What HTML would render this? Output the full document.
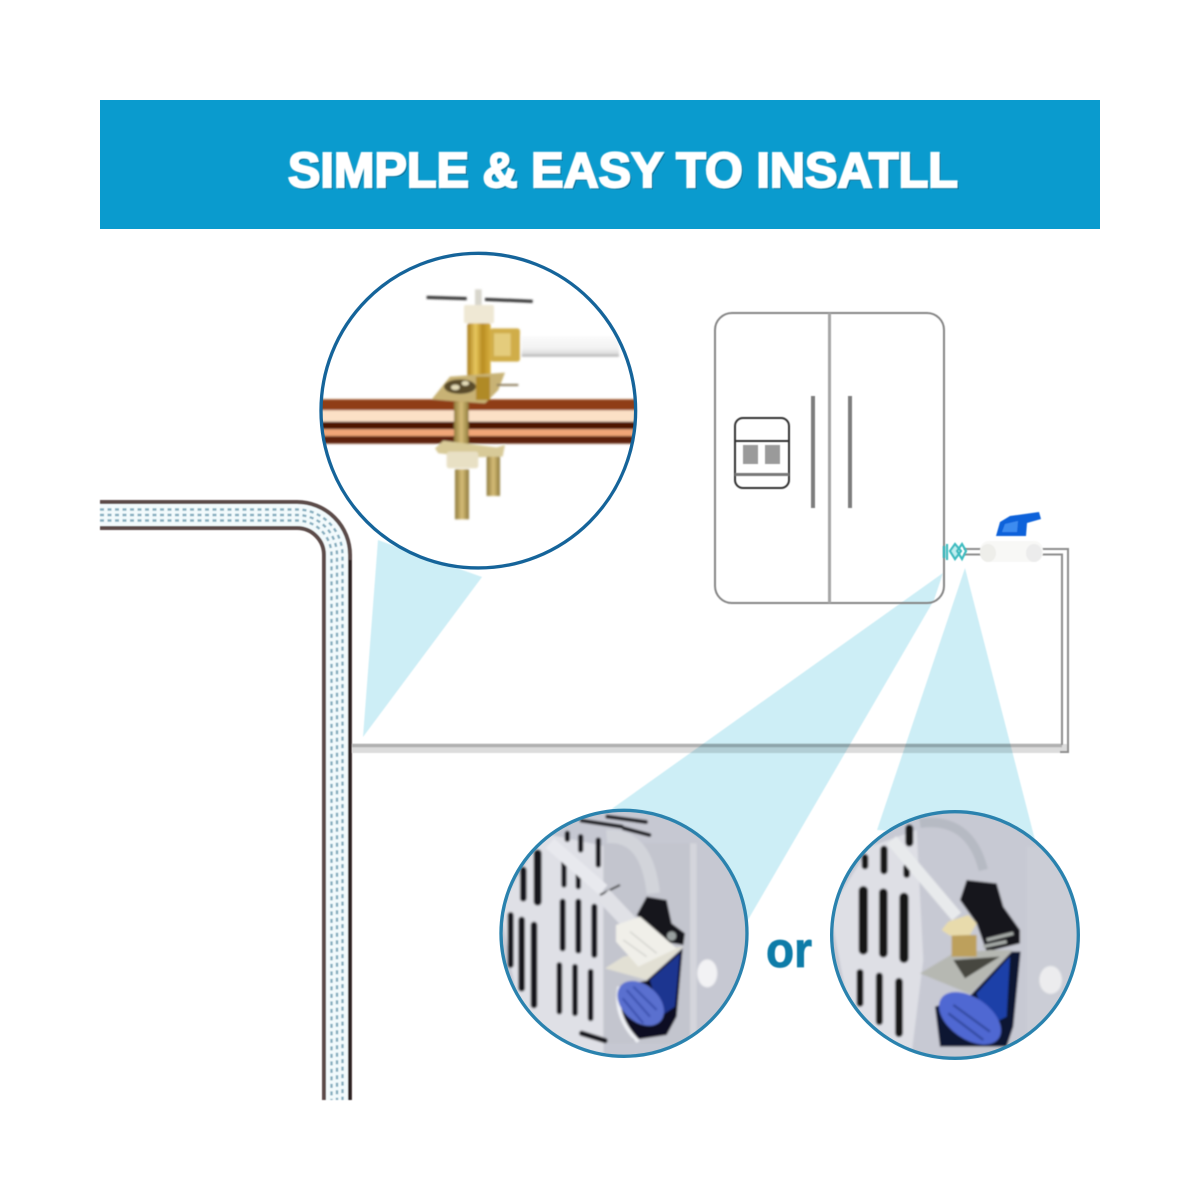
<!DOCTYPE html>
<html><head><meta charset="utf-8"><style>html,body{margin:0;padding:0;background:#fff}svg{display:block}</style></head><body>
<svg xmlns="http://www.w3.org/2000/svg" width="1200" height="1200" viewBox="0 0 1200 1200">
<defs>
<filter id="b" x="-5%" y="-5%" width="110%" height="110%"><feGaussianBlur stdDeviation="3"/></filter>
<filter id="s" x="-5%" y="-5%" width="110%" height="110%"><feGaussianBlur stdDeviation="0.6"/></filter>
<filter id="t" x="-5%" y="-20%" width="110%" height="140%"><feGaussianBlur stdDeviation="0.5"/></filter>
<clipPath id="c1"><circle cx="505" cy="512" r="470"/></clipPath>
<clipPath id="c2"><circle cx="402" cy="400" r="369"/></clipPath>
<clipPath id="c3"><circle cx="405" cy="405" r="370"/></clipPath>
<linearGradient id="tube" x1="0" y1="0" x2="0" y2="1"><stop offset="0" stop-color="#fbfbfb"/><stop offset=".6" stop-color="#f2f2f2"/><stop offset=".85" stop-color="#dcdcdc"/><stop offset="1" stop-color="#a8a8a8"/></linearGradient>
<linearGradient id="brass" x1="0" y1="0" x2="1" y2="0"><stop offset="0" stop-color="#a87c1c"/><stop offset=".35" stop-color="#e8c860"/><stop offset=".65" stop-color="#b88c20"/><stop offset="1" stop-color="#d8b040"/></linearGradient>
<linearGradient id="bolt" x1="0" y1="0" x2="1" y2="0"><stop offset="0" stop-color="#8e7a3c"/><stop offset=".5" stop-color="#d6bd78"/><stop offset="1" stop-color="#8e7a3c"/></linearGradient>
</defs>

<rect x="100" y="100" width="1000" height="129" fill="#0a9bce"/>
<text x="288" y="187" font-family="Liberation Sans, sans-serif" font-weight="700" font-size="49" textLength="670" lengthAdjust="spacingAndGlyphs" fill="#0b6f96" stroke="#0b6f96" stroke-width="1.500" opacity=".75" transform="translate(1.5 1.5)">SIMPLE &amp; EASY TO INSATLL</text>
<text x="288" y="187" font-family="Liberation Sans, sans-serif" font-weight="700" font-size="49" textLength="670" lengthAdjust="spacingAndGlyphs" fill="#fff" stroke="#fff" stroke-width="2.200" filter="url(#t)">SIMPLE &amp; EASY TO INSATLL</text>

<!-- wall water pipe -->
<g filter="url(#s)" fill="none">
<path d="M100 515H297A40 40 0 0 1 337 555V1100" stroke="#5c4c48" stroke-width="30"/>
<path d="M100 515H297A40 40 0 0 1 337 555V1100" stroke="#f2fafc" stroke-width="22"/>
<path d="M320 555V555M350 560V1100" stroke="#2a2020" stroke-width="3"/>
<g stroke="#86aebf" stroke-width="2.4" stroke-dasharray="4 3.5">
<path d="M100 509.500H297A45.500 45.500 0 0 1 342.500 555V1100"/>
<path d="M100 515H297A40 40 0 0 1 337 555V1100"/>
<path d="M100 520.500H297A34.500 34.500 0 0 1 331.500 555V1100"/>
</g>
</g>

<!-- water line -->
<g filter="url(#s)" fill="none">
<rect x="352" y="744" width="716" height="9" fill="#dcdcdc"/>
<path d="M352 745.500H1062" stroke="#b0b0b0" stroke-width="3.500"/>
<path d="M1040 549H1068V752H1060" stroke="#8d8d8d" stroke-width="2"/>
<path d="M1040 554.500H1062V745" stroke="#8d8d8d" stroke-width="2"/>
<path d="M964 549H982M964 554.500H982" stroke="#8d8d8d" stroke-width="2"/>
</g>

<!-- beams -->
<g fill="#cdeef6" style="mix-blend-mode:multiply" filter="url(#s)">
<polygon points="363,737 378,540 482,577"/>
<polygon points="943,573 613,808 560,900 745,925 934,600"/>
<polygon points="965,568 877,830 1035,840"/>
</g>

<!-- fridge -->
<g fill="none" filter="url(#s)">
<rect x="715" y="313" width="229" height="290" rx="17" stroke="#858585" stroke-width="2"/>
<path d="M829.500 313V603" stroke="#a6a6a6" stroke-width="3"/>
<path d="M813 396V508M850 396V508" stroke="#7d7d7d" stroke-width="4"/>
<rect x="735" y="418" width="54" height="70" rx="8" stroke="#333" stroke-width="2"/>
<path d="M735 441H789" stroke="#333" stroke-width="2"/>
<path d="M735 474.500H789" stroke="#777" stroke-width="3"/>
<rect x="743" y="445" width="15" height="19" fill="#9a9a9a"/>
<rect x="765" y="445" width="15" height="19" fill="#9a9a9a"/>
</g>

<!-- valve -->
<g filter="url(#s)">
<g fill="none" stroke="#3cbcc0" stroke-width="2.200">
<path d="M944 546V558M947 544V560"/>
<path d="M950 551L955 544L961 551L955 559Z" fill="#bfeef0"/>
<path d="M957 551L962 544L966 551L962 559Z"/>
</g>
<rect x="980" y="541" width="63" height="21" rx="9" fill="#f8f8f6"/>
<ellipse cx="988" cy="553" rx="8" ry="9" fill="#eeeeea"/>
<ellipse cx="1034" cy="553" rx="8" ry="9" fill="#ececec"/>
<path d="M996 536L1000 522L1010 516L1039 512L1041 519L1027 523L1026 536Z" fill="#0f62da"/>
<path d="M1002 532L1005 524L1018 521L1017 532Z" fill="#3d8cf0"/>
</g>

<!-- circle 1 -->
<g transform="translate(310 240) scale(.3333)">
<circle cx="505" cy="512" r="472" fill="#fff"/>
<g clip-path="url(#c1)"><g filter="url(#b)">
<rect x="0" y="478" width="1020" height="33" fill="#8f3e12"/>
<rect x="0" y="511" width="1020" height="34" fill="#fbe0c6"/>
<rect x="0" y="545" width="1020" height="23" fill="#4d1505"/>
<rect x="0" y="568" width="1020" height="20" fill="#f1a678"/>
<rect x="0" y="588" width="1020" height="23" fill="#5e2208"/>
<rect x="635" y="288" width="292" height="62" fill="url(#tube)"/>
<path d="M350 172L470 176M525 178L668 184" stroke="#2e2e2e" stroke-width="9" fill="none"/>
<rect x="495" y="148" width="20" height="50" fill="#d8d6cc"/>
<rect x="462" y="195" width="90" height="55" rx="6" fill="#efe8d4"/>
<rect x="540" y="265" width="90" height="100" rx="8" fill="#d0ad48"/>
<rect x="552" y="280" width="50" height="68" fill="#e4cc7c"/>
<rect x="472" y="250" width="70" height="175" rx="6" fill="url(#brass)"/>
<polygon points="365,478 420,410 585,398 565,450 525,490 440,484" fill="#c8b274"/>
<ellipse cx="450" cy="440" rx="48" ry="22" fill="#5a4c2c"/>
<ellipse cx="436" cy="442" rx="13" ry="8" fill="#e5dcb8"/>
<ellipse cx="466" cy="430" rx="11" ry="7" fill="#e5dcb8"/>
<rect x="498" y="410" width="42" height="70" fill="#b08a28"/>
<path d="M560 435H625" stroke="#8a7a5a" stroke-width="6"/>
<rect x="432" y="485" width="44" height="138" fill="url(#bolt)"/>
<polygon points="375,625 400,602 560,622 585,615 578,650 500,652 385,640" fill="#d8ca98"/>
<rect x="410" y="635" width="95" height="50" rx="8" fill="#e8e0c4"/>
<rect x="435" y="688" width="42" height="150" fill="url(#bolt)"/>
<rect x="530" y="650" width="40" height="118" fill="url(#bolt)"/>
</g></g>
<circle cx="505" cy="512" r="472" fill="none" stroke="#15649a" stroke-width="10"/>
</g>

<!-- circle 2 -->
<g transform="translate(490 800) scale(.3333)">
<g clip-path="url(#c2)"><g filter="url(#b)">
<rect x="0" y="0" width="810" height="810" fill="#c6c8d2"/>
<polygon points="30,320 160,100 350,140 340,780 100,700" fill="#dfe0e6"/>
<rect x="340" y="130" width="260" height="600" fill="#c3c5ce"/>
<rect x="600" y="130" width="20" height="600" fill="#d4d5dc"/>
<path d="M350 110Q470 100 490 280" fill="none" stroke="#d2d4da" stroke-width="40"/>
<g stroke="#14141a" stroke-linecap="round" fill="none">
<path d="M143 160V305" stroke-width="24"/><path d="M100 210V295" stroke-width="20"/>
<path d="M62 345V495" stroke-width="18"/><path d="M95 360V565" stroke-width="20"/><path d="M132 375V615" stroke-width="20"/>
<path d="M218 305V445M265 305V452M313 320V465" stroke-width="18"/>
<path d="M208 495V635M255 500V640M302 515V655" stroke-width="17"/>
<path d="M222 185V255M265 210V260M325 120V195M272 110V150M232 100V118" stroke-width="16"/>
<path d="M275 62L395 80M352 50L468 66M402 85L478 105" stroke-width="12"/>
<path d="M275 700L345 722" stroke-width="16"/>
</g>
<path d="M180 130L340 270" stroke="#e8e9ee" stroke-width="38" fill="none"/>
<path d="M330 285L390 255" stroke="#333" stroke-width="6"/>
<path d="M340 285L420 370" stroke="#e0e1e6" stroke-width="48" fill="none"/>
<path d="M440 345L470 290L530 300L545 370L585 400L580 435L520 425Z" fill="#17171b"/>
<circle cx="545" cy="408" r="14" fill="#9aa0a0"/>
<polygon points="345,505 470,540 580,440 500,450 400,470" fill="#e2e0d4"/>
<polygon points="470,542 578,445 560,650 530,705 430,720 395,640 390,560" fill="#101020"/>
<polygon points="480,540 570,460 555,620 510,650" fill="#1c3490"/>
<path d="M388 560Q370 650 445 725" fill="none" stroke="#eef0f4" stroke-width="12"/>
<ellipse cx="452" cy="610" rx="80" ry="55" transform="rotate(42 452 610)" fill="#5a70cf"/>
<path d="M410 570L480 650M398 595L460 670M430 560L500 630" stroke="#3b50ac" stroke-width="6"/>
<polygon points="378,375 450,350 560,445 445,500 378,425" fill="#f0efe9"/>
<path d="M420 395L500 460M400 420L470 470" stroke="#d0d0cc" stroke-width="4"/>
<ellipse cx="652" cy="520" rx="30" ry="42" fill="#f2f2f4"/>
</g></g>
<circle cx="402" cy="400" r="369" fill="none" stroke="#2a82ae" stroke-width="10"/>
</g>

<!-- circle 3 -->
<g transform="translate(820 800) scale(.3333)">
<g clip-path="url(#c3)"><g filter="url(#b)">
<rect x="0" y="0" width="810" height="810" fill="#c7c9d3"/>
<polygon points="30,330 150,140 290,90 310,480 270,800 100,700" fill="#dedfe5"/>
<rect x="620" y="140" width="200" height="600" fill="#cbcdd6"/>
<path d="M300 70Q450 50 490 210" fill="none" stroke="#b6bac3" stroke-width="28"/>
<g stroke="#121216" stroke-linecap="round" fill="none">
<path d="M130 272V450" stroke-width="28"/><path d="M190 278V460" stroke-width="26"/><path d="M252 292V475" stroke-width="28"/>
<path d="M120 518V610" stroke-width="21"/><path d="M178 528V665" stroke-width="21"/><path d="M237 545V700" stroke-width="23"/>
<path d="M268 85V128" stroke-width="24"/><path d="M192 148V212" stroke-width="22"/><path d="M135 172V198" stroke-width="20"/><path d="M260 202V224" stroke-width="20"/>
</g>
<path d="M215 120L410 350" stroke="#e8eaec" stroke-width="36" fill="none"/>
<path d="M420 300L440 240L530 250L550 320L600 390L600 430L500 455L470 370Z" fill="#17171a"/>
<path d="M500 420L580 400M490 440L560 425" stroke="#a9adaa" stroke-width="10"/>
<polygon points="300,520 400,460 510,450 578,450 450,582" fill="#b6b8b2"/>
<polygon points="400,480 540,470 435,535" fill="#46463f"/>
<polygon points="452,585 575,455 602,455 580,680 560,740 360,740 345,620" fill="#0f1530"/>
<polygon points="470,580 570,470 560,650 500,680" fill="#1f40a8"/>
<ellipse cx="450" cy="655" rx="105" ry="62" transform="rotate(35 450 655)" fill="#4f68d2"/>
<path d="M385 640L490 720M400 615L510 695" stroke="#33489f" stroke-width="7"/>
<rect x="395" y="405" width="75" height="65" fill="#bda05c"/>
<polygon points="365,390 385,365 445,345 470,370 450,405 390,407" fill="#e8dbac"/>
<ellipse cx="692" cy="540" rx="34" ry="42" fill="#ececee"/>
</g></g>
<circle cx="405" cy="405" r="370" fill="none" stroke="#2a82ae" stroke-width="10"/>
</g>

<text x="766" y="967" font-family="Liberation Sans, sans-serif" font-weight="700" font-size="50" textLength="46" lengthAdjust="spacingAndGlyphs" fill="#0a7ba8" stroke="#0a7ba8" stroke-width=".8" filter="url(#t)">or</text>
</svg>
</body></html>
